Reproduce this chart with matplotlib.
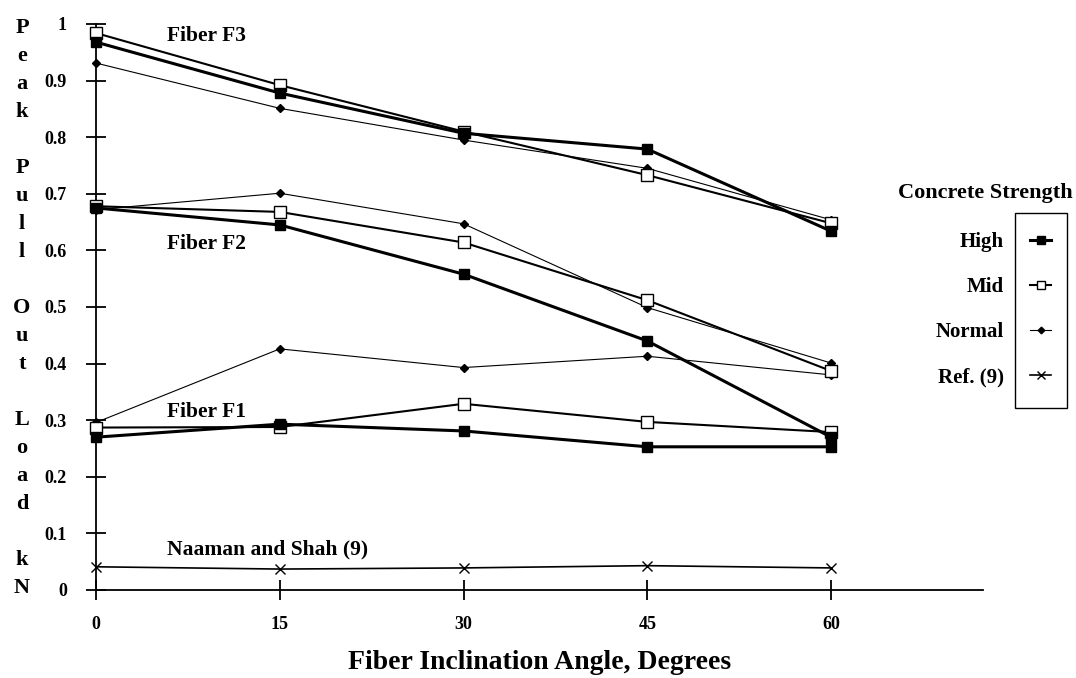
import matplotlib
matplotlib.use("Agg")
import matplotlib.pyplot as plt
from matplotlib.patches import Rectangle

plt.rcParams["font.family"] = ["Liberation Serif", "DejaVu Serif"]
plt.rcParams["font.weight"] = "bold"

# fiber inclination angle (degrees)
angles = [0, 15, 30, 45, 60]

# peak pull-out load (kN) per fiber type and concrete strength
f3_high = [0.968, 0.878, 0.807, 0.779, 0.634]
f3_mid = [0.984, 0.892, 0.810, 0.733, 0.648]
f3_normal = [0.931, 0.851, 0.795, 0.745, 0.654]

f2_high = [0.675, 0.645, 0.558, 0.440, 0.270]
f2_mid = [0.678, 0.668, 0.614, 0.512, 0.387]
f2_normal = [0.672, 0.701, 0.647, 0.499, 0.401]

f1_high = [0.270, 0.293, 0.281, 0.253, 0.253]
f1_mid = [0.287, 0.288, 0.329, 0.297, 0.279]
f1_normal = [0.296, 0.426, 0.393, 0.413, 0.380]

ref9 = [0.041, 0.037, 0.039, 0.043, 0.039]

styles = {
    "High": dict(color="black", lw=2.2, marker="s", ms=7, mfc="black", mec="black"),
    "Mid": dict(color="black", lw=1.5, marker="s", ms=8, mfc="white", mec="black", mew=1.0),
    "Normal": dict(color="black", lw=0.8, marker="D", ms=4.5, mfc="black", mec="black"),
    "Ref. (9)": dict(color="black", lw=1.2, marker="x", ms=7, mew=1.0),
}

fig = plt.figure(figsize=(10.76, 6.78), dpi=100)
ax = fig.add_axes([96 / 1076, 1 - 590 / 678, (983 - 96) / 1076, (590 - 24) / 678])

handles = {}
for name, high, mid, normal in [("F3", f3_high, f3_mid, f3_normal),
                                ("F2", f2_high, f2_mid, f2_normal),
                                ("F1", f1_high, f1_mid, f1_normal)]:
    handles["Normal"], = ax.plot(angles, normal, clip_on=False, zorder=3, **styles["Normal"])
    handles["Mid"], = ax.plot(angles, mid, clip_on=False, zorder=4, **styles["Mid"])
    handles["High"], = ax.plot(angles, high, clip_on=False, zorder=5, **styles["High"])
handles["Ref. (9)"], = ax.plot(angles, ref9, clip_on=False, zorder=3, **styles["Ref. (9)"])

ax.set_xlim(0, 72.4)
ax.set_ylim(0, 1)
ax.set_xticks(angles)
ax.set_xticklabels([str(a) for a in angles])
ax.set_yticks([i / 10 for i in range(11)])
ax.set_yticklabels(["0"] + [f"0.{i}" for i in range(1, 10)] + ["1"])

for side in ["top", "right"]:
    ax.spines[side].set_visible(False)
for side in ["left", "bottom"]:
    ax.spines[side].set_linewidth(1.3)

ax.tick_params(axis="both", direction="inout", width=1.3, labelsize=13)
ax.tick_params(axis="y", length=14, pad=14)
ax.tick_params(axis="x", length=14, pad=12)

# curve group labels
label_kw = dict(fontsize=15.5, fontweight="bold", ha="left", va="center")
ax.text(5.8, 0.979, "Fiber F3", **label_kw)
ax.text(5.8, 0.612, "Fiber F2", **label_kw)
ax.text(5.8, 0.315, "Fiber F1", **label_kw)
ax.text(5.8, 0.071, "Naaman and Shah (9)", **label_kw)

ax.set_xlabel("Fiber Inclination Angle, Degrees", fontsize=20, fontweight="bold", labelpad=12)

# stacked vertical y label
ylabel_lines = list("Peak") + [""] + list("Pull") + [""] + list("Out") + [""] + list("Load") + [""] + list("kN")
for i, ch in enumerate(ylabel_lines):
    if ch:
        fig.text(22 / 1076, 1 - (28 + 28 * i) / 678, ch, fontsize=16, fontweight="bold",
                 ha="center", va="center")

# legend: labels to the left of a box holding the markers
order = ["High", "Mid", "Normal", "Ref. (9)"]
fig.text(1073 / 1076, 1 - 193 / 678, "Concrete Strength", fontsize=16, fontweight="bold",
         ha="right", va="center")
fig.legend([handles[k] for k in order], order, loc="upper right",
           bbox_to_anchor=(1051 / 1076, 1 - 232 / 678), frameon=False,
           markerfirst=False, handlelength=1.0, handletextpad=1.25,
           borderpad=0, borderaxespad=0, markerscale=0.75,
           labelspacing=1.2, fontsize=15)
fig.add_artist(Rectangle((1015 / 1076, 1 - 408 / 678), 52 / 1076, (408 - 213) / 678,
                         transform=fig.transFigure, fill=False, lw=1.0, ec="black"))

fig.savefig("out.png", dpi=100)
